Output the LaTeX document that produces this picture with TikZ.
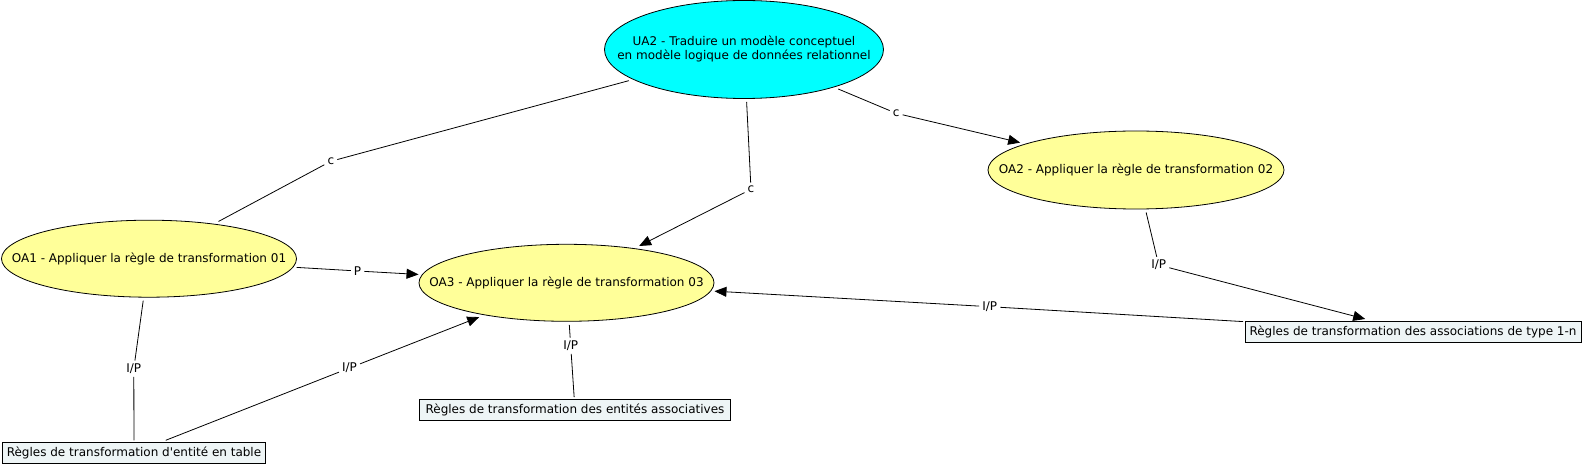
\documentclass[tikz,border=0pt]{standalone}
\usepackage{fontspec}
\setmainfont{DejaVu Sans}[Ligatures=TeXOff]
\usetikzlibrary{shapes.geometric,arrows.meta}
\definecolor{oayellow}{HTML}{FFFF99}
\definecolor{uacyan}{HTML}{00FFFF}
\definecolor{boxfill}{HTML}{EEF5F6}
\newcommand{\zw}[1]{\makebox[0pt]{#1}}
\begin{document}
\begin{tikzpicture}[x=1pt,y=-1pt,
  every node/.style={font=\fontsize{12}{14.6}\selectfont},
  concept/.style={ellipse,draw,line width=0.8pt,fill=oayellow,minimum width=295pt,minimum height=77pt,inner sep=0pt,outer sep=3.5pt},
  resource/.style={rectangle,draw,line width=0.8pt,fill=boxfill,inner xsep=0pt,inner ysep=0pt,minimum height=21pt,outer sep=2pt},
  lbl/.style={inner sep=3pt},
  link/.style={draw,line width=0.8pt},
  arr/.style={link,-{Triangle[length=12pt,width=10pt]}}]
\useasboundingbox (0,0) rectangle (1583,465);

\node[concept,fill=uacyan,minimum width=279pt,minimum height=98pt] (ua2) at (744,49.5)
  {\zw{\begin{tabular}{@{}c@{}}UA2 - Traduire un modèle conceptuel\\en modèle logique de données relationnel\end{tabular}}};
\node[concept] (oa1) at (149,258.7) {\zw{OA1 - Appliquer la règle de transformation 01}};
\node[concept] (oa3) at (566.5,282.8) {\zw{OA3 - Appliquer la règle de transformation 03}};
\node[concept,minimum width=296pt,minimum height=78pt] (oa2) at (1136,170) {\zw{OA2 - Appliquer la règle de transformation 02}};

\node[resource,minimum width=336pt] (r1n) at (1413,331.5) {Règles de transformation des associations de type 1-n};
\node[resource,minimum width=263pt] (rtab) at (134,452.8) {Règles de transformation d'entité en table};
\node[resource,minimum width=310.6pt] (rasso) at (575,409.7) {Règles de transformation des entités associatives};

\node[lbl] (c1) at (330.8,161.3) {c};
\node[lbl] (c2) at (751,189.3) {c};
\node[lbl] (c3) at (896.2,113.3) {c};
\node[lbl] (p1) at (357.6,271) {P};
\node[lbl] (ip1) at (1158.7,265) {I/P};
\node[lbl] (ip2) at (989.8,306.7) {I/P};
\node[lbl] (ip3) at (133.8,368.7) {I/P};
\node[lbl] (ip4) at (349.5,368) {I/P};
\node[lbl] (ip5) at (570.7,345.7) {I/P};

\path[link] (ua2) -- (c1);
\path[link] (c1) -- (oa1);
\path[link] (ua2) -- (c2);
\path[arr] (c2) -- (oa3);
\path[link] (ua2) -- (c3);
\path[arr] (c3) -- (oa2);
\path[link] (oa1) -- (p1);
\path[arr] (p1) -- (oa3);
\path[link] (oa2) -- (ip1);
\path[arr] (ip1) -- (r1n);
\path[link] (r1n) -- (ip2);
\path[arr] (ip2) -- (oa3);
\path[link] (oa1) -- (ip3);
\path[link] (ip3) -- (rtab);
\path[link] (rtab) -- (ip4);
\path[arr] (ip4) -- (oa3);
\path[link] (oa3) -- (ip5);
\path[link] (ip5) -- (rasso);
\end{tikzpicture}
\end{document}
